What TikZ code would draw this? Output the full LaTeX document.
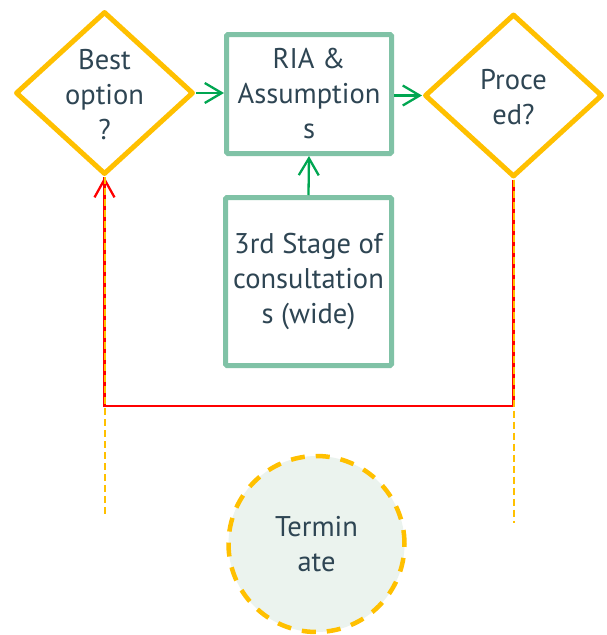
\documentclass[tikz,border=0pt]{standalone}
\usepackage{fontspec}
\setmainfont{PT Sans}
\usetikzlibrary{shapes.geometric,arrows.meta}
\definecolor{gold}{HTML}{FFC000}
\definecolor{boxgreen}{HTML}{80C2A6}
\definecolor{arrgreen}{HTML}{00A651}
\definecolor{txt}{HTML}{2E4553}
\definecolor{termfill}{HTML}{EBF3EE}
\definecolor{linered}{HTML}{FF0000}
\begin{document}
\begin{tikzpicture}[x=1pt,y=-1pt,
  decision/.style={diamond, draw=gold, line width=5pt, line join=round,
    minimum width=178pt, minimum height=163pt, inner sep=0pt},
  procbox/.style={rectangle, draw=boxgreen, line width=5pt, rounded corners=1.5pt,
    inner sep=0pt, text=txt, font=\fontsize{28.5}{35}\selectfont, align=center},
  lbl/.style={text=txt, font=\fontsize{28.5}{35}\selectfont, align=center, inner sep=0pt},
  garrow/.style={draw=arrgreen, line width=2.3pt, -{Straight Barb[length=17pt,width=20pt]}},
  rarrow/.style={draw=linered, line width=2.5pt},
  gdash/.style={draw=gold, line width=2pt, dash pattern=on 7pt off 4pt},
  termstyle/.style={circle, draw=gold, fill=termfill, line width=4.5pt,
    dash pattern=on 14pt off 11pt, minimum size=176pt, inner sep=0pt,
    text=txt, font=\fontsize{28.5}{35}\selectfont, align=center}
]
\useasboundingbox[fill=white] (0,0) rectangle (606,635);

% decisions
\node[decision] (best) at (104.5,93) {};
\node[lbl] (besttxt) at (104.5,95) {Best\\option\\?};
\node[decision] (proc) at (513.5,95.5) {};
\node[lbl] (proctxt) at (513.5,97) {Proce\\ed?};

% process boxes
\node[procbox, minimum width=165pt, minimum height=119pt] (ria) at (309,94) {RIA \&\\Assumption\\s};
\node[procbox, minimum width=166pt, minimum height=168pt] (stage) at (308.5,281.5) {3rd Stage of\\consultation\\s (wide)};

% terminate
\node[termstyle] (term) at (316.5,544) {Termin\\ate};

% helper coordinates
\coordinate (bottomrow) at (0,406);
\coordinate (leftend) at (0,517);
\coordinate (rightend) at (0,523);

% green arrows
\draw[garrow] (best.east) -- (best.east -| ria.west);
\draw[garrow] (ria.east |- proc.west) -- (proc.west);
\draw[garrow] (stage.north) -- (ria.south);

% red return path
\draw[rarrow] (proc.south) -- (proc.south |- bottomrow) -- (best.south |- bottomrow) -- (best.south);
\draw[draw=linered, line width=2.3pt, -{Straight Barb[length=18pt,width=20pt]}] ([yshift=-25pt]best.south) -- (best.south);

% orange dashed lines
\draw[gdash] (best.south) -- (best.south |- leftend);
\draw[gdash] (proc.south) -- (proc.south |- rightend);
\end{tikzpicture}
\end{document}
